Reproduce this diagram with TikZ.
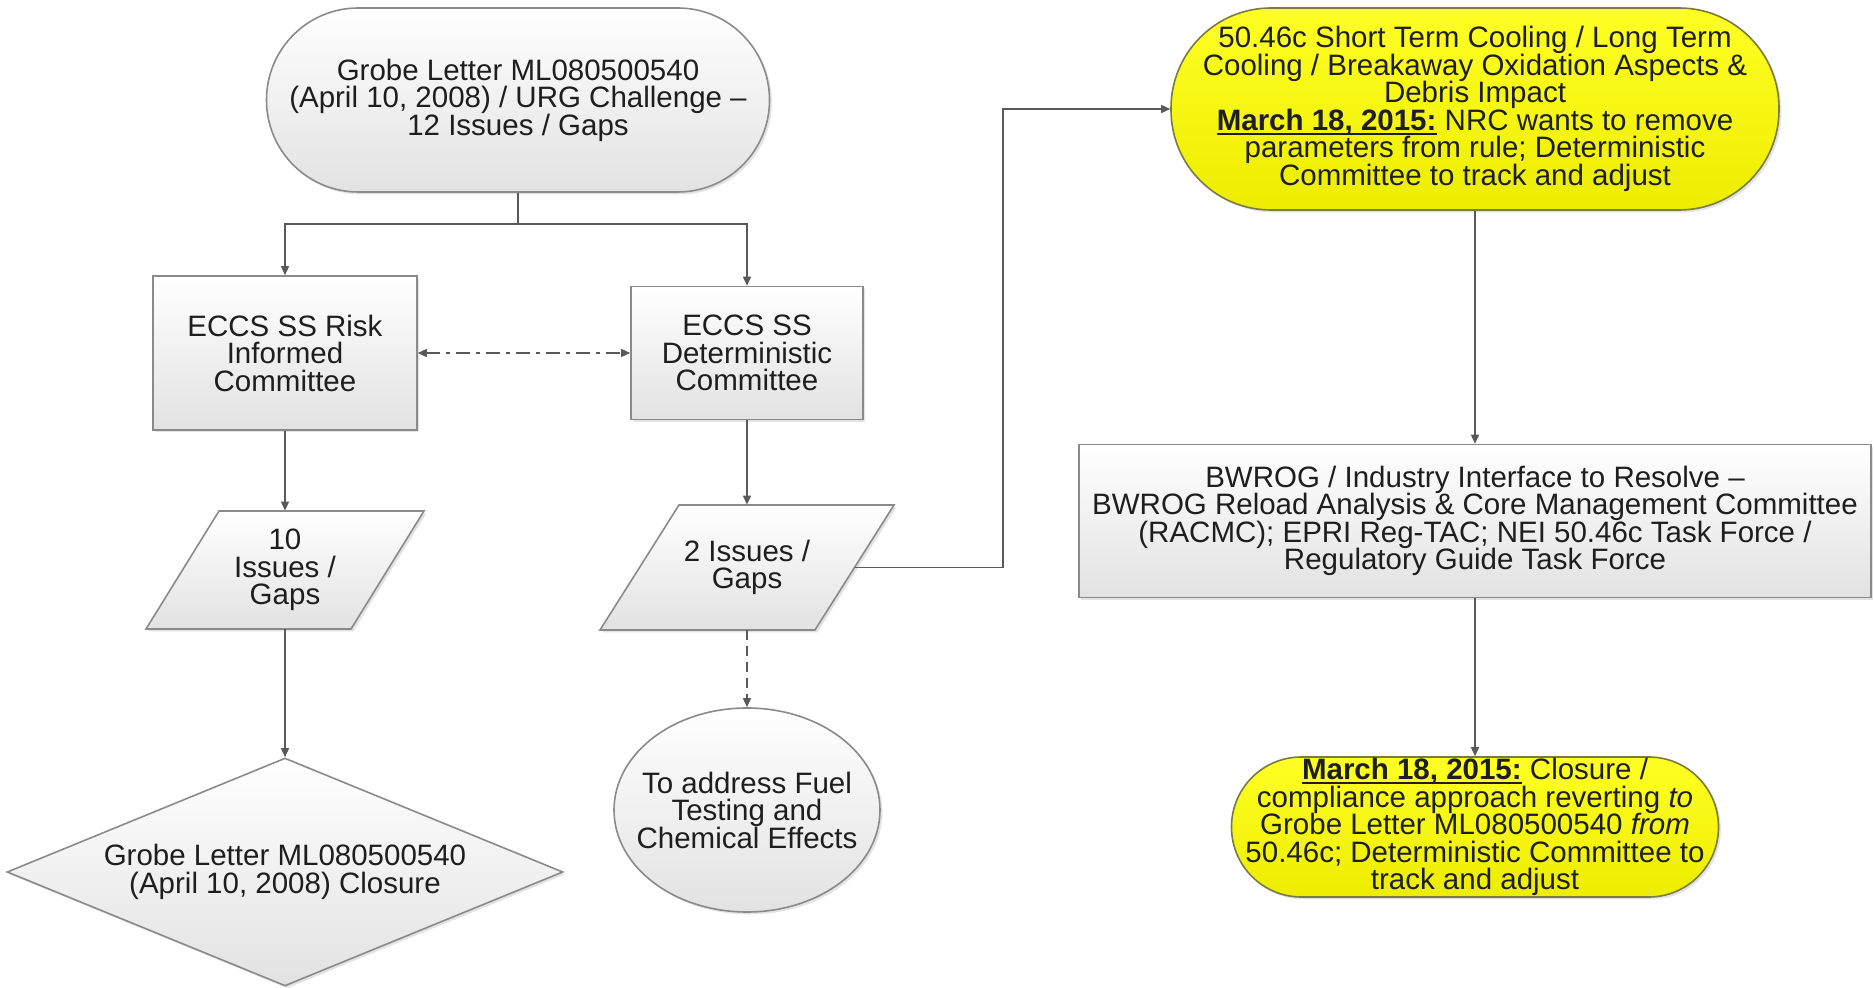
\documentclass[tikz,border=0pt]{standalone}
\usepackage{fontspec}
\setmainfont{Liberation Sans}
\usetikzlibrary{arrows.meta,shapes.geometric,shadows,calc}
\definecolor{linec}{HTML}{595959}
\definecolor{bordc}{HTML}{8A8A8A}
\definecolor{ybord}{HTML}{7A7A45}
\definecolor{ytop}{HTML}{FFFF24}
\definecolor{ybot}{HTML}{EDED00}
\definecolor{gtop}{HTML}{FFFFFF}
\definecolor{gbot}{HTML}{E2E2E2}
\definecolor{txt}{HTML}{1E1E1E}
\newcommand{\datemark}[1]{\sbox0{\textbf{#1}}\rlap{\rule[-2.2pt]{\wd0}{0.9pt}}\usebox0}
\begin{document}
\begin{tikzpicture}[x=0.5pt,y=-0.5pt,
  every node/.style={font=\fontsize{14.75}{13.75}\selectfont, text=txt, align=center, inner sep=0pt},
  gbox/.style={draw=bordc, line width=0.8pt, top color=gtop, bottom color=gbot,
    drop shadow={opacity=0.22, shadow xshift=1.2pt, shadow yshift=-1.2pt}},
  ybox/.style={draw=ybord, line width=0.8pt, top color=ytop, bottom color=ybot,
    drop shadow={opacity=0.22, shadow xshift=1.2pt, shadow yshift=-1.2pt}},
  conn/.style={draw=linec, line width=0.75pt},
  tipa/.tip={Triangle[length=4.5pt,width=4pt]},
  arr/.style={conn, -tipa},
]
\useasboundingbox (0,0) rectangle (1874,988);

% top grey stadium
\node[gbox, rectangle, rounded corners=45.9pt, minimum width=251.5pt, minimum height=92pt] (A) at (518,100)
  {Grobe Letter ML080500540\\(April 10, 2008) / URG Challenge –\\12 Issues / Gaps};

% committees
\node[gbox, rectangle, minimum width=132pt, minimum height=77pt] (R) at (285,353)
  {ECCS SS Risk\\Informed\\Committee};
\node[gbox, rectangle, minimum width=116pt, minimum height=66.5pt] (D) at (747,353)
  {ECCS SS\\Deterministic\\Committee};

% parallelograms
\coordinate (p10c) at (285,570);
\path[gbox] ($(p10c)+(-139,59)$) -- ($(p10c)+(66,59)$) -- ($(p10c)+(139,-59)$) -- ($(p10c)+(-66,-59)$) -- cycle;
\node[minimum height=59pt] (p10) at (p10c) {10\\Issues /\\Gaps};

\coordinate (p2c) at (747,567.5);
\path[gbox] ($(p2c)+(-147,62.5)$) -- ($(p2c)+(68,62.5)$) -- ($(p2c)+(147,-62.5)$) -- ($(p2c)+(-68,-62.5)$) -- cycle;
\node[minimum height=62.5pt] (p2) at (p2c) {2 Issues /\\Gaps};
\coordinate (p2r) at ($(p2c)+(107.5,0)$);

% diamond
\node[gbox, diamond, shape aspect=2.44, minimum width=278pt, minimum height=114pt] (Dm) at (285,872)
  {Grobe Letter ML080500540\\(April 10, 2008) Closure};

% ellipse
\node[gbox, ellipse, inner xsep=-9pt, inner ysep=0pt, minimum width=133pt, minimum height=102pt] (C) at (747,810)
  {To address Fuel\\Testing and\\Chemical Effects};

% right column
\node[ybox, rectangle, rounded corners=50pt, minimum width=304pt, minimum height=101pt] (Y1) at (1475,109)
  {50.46c Short Term Cooling / Long Term\\Cooling / Breakaway Oxidation Aspects \&\\Debris Impact\\
   \datemark{March 18, 2015:} NRC wants to remove\\parameters from rule; Deterministic\\Committee to track and adjust};

\node[gbox, rectangle, minimum width=396pt, minimum height=76.5pt] (BW) at (1475,521)
  {BWROG / Industry Interface to Resolve –\\BWROG Reload Analysis \& Core Management Committee\\(RACMC); EPRI Reg-TAC; NEI 50.46c Task Force /\\Regulatory Guide Task Force};

\node[ybox, rectangle, rounded corners=34.9pt, minimum width=243.5pt, minimum height=70pt] (Y2) at (1475,827)
  {\datemark{March 18, 2015:} Closure /\\compliance approach reverting \textit{to}\\Grobe Letter ML080500540 \textit{from}\\50.46c; Deterministic Committee to\\track and adjust};

% connectors
\coordinate (fork) at (518,224);
\coordinate (bend) at (1003,567.5);
\draw[conn] (A.south) -- (fork);
\draw[arr] (fork) -| (R.north);
\draw[arr] (fork) -| (D.north);
\draw[conn, tipa-tipa, dash pattern=on 7pt off 3pt on 2pt off 3pt] (R.east) -- (D.west);
\draw[arr] (R.south) -- (p10.north);
\draw[arr] (D.south) -- (p2.north);
\draw[arr] (p10.south) -- (Dm.north);
\draw[arr, dash pattern=on 5pt off 3pt] (p2.south) -- (C.north);
\draw[arr] (p2r) -- (bend) |- (Y1.west);
\draw[arr] (Y1.south) -- (BW.north);
\draw[arr] (BW.south) -- (Y2.north);
\end{tikzpicture}
\end{document}
